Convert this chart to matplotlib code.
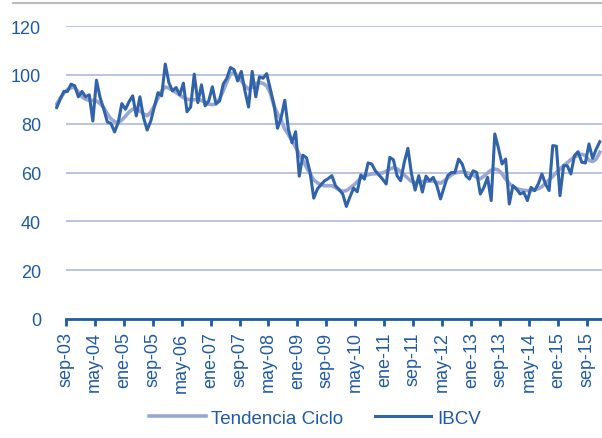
import matplotlib.pyplot as plt
from matplotlib.lines import Line2D

# tick labels every 8 months
tick_labels = ["sep-03", "may-04", "ene-05", "sep-05", "may-06", "ene-07", "sep-07",
               "may-08", "ene-09", "sep-09", "may-10", "ene-11", "sep-11", "may-12",
               "ene-13", "sep-13", "may-14", "ene-15", "sep-15"]

# monthly values, jun-03 .. dec-15
ibcv = [86.6, 90.0, 93.2, 93.2, 96.2, 95.5, 91.0, 93.2, 91.0, 91.8,
        81.1, 97.8, 90.7, 86.0, 80.7, 80.1, 76.6, 80.4, 88.2, 85.9,
        89.0, 91.4, 83.2, 91.0, 82.5, 77.4, 81.1, 87.0, 92.7, 91.4,
        104.4, 96.8, 93.4, 94.8, 91.8, 96.6, 84.9, 86.8, 100.3, 88.6,
        95.9, 87.3, 89.3, 95.1, 88.2, 89.3, 96.2, 98.6, 103.0, 102.1,
        97.5, 101.4, 93.4, 86.8, 101.4, 91.0, 99.2, 98.6, 100.5, 94.1,
        87.9, 78.1, 82.5, 89.6, 77.7, 72.2, 76.7, 58.5, 67.1, 66.0,
        60.0, 49.5, 53.2, 55.0, 56.6, 57.5, 58.7, 54.6, 53.0, 51.2,
        46.1, 50.0, 53.6, 52.1, 59.0, 57.3, 63.9, 63.5, 60.7, 59.0,
        57.3, 55.3, 66.2, 65.2, 58.7, 56.6, 64.2, 69.9, 59.4, 52.8,
        58.7, 52.0, 58.5, 56.6, 58.0, 54.6, 49.2, 54.0, 58.7, 60.0,
        60.0, 65.5, 63.5, 58.7, 57.3, 60.7, 60.0, 51.2, 53.9, 58.0,
        48.5, 75.8, 70.0, 63.5, 65.5, 47.1, 54.6, 53.2, 51.2, 51.9,
        48.5, 53.9, 52.6, 55.3, 59.4, 55.3, 52.6, 71.0, 70.8, 50.5,
        62.8, 62.8, 59.4, 66.9, 68.5, 64.2, 63.9, 71.7, 65.8, 69.6,
        72.6]

tendencia = [88.0, 90.5, 92.5, 94.0, 94.8, 94.8, 93.0, 91.0, 90.0, 89.6,
             89.5, 89.3, 88.2, 86.6, 84.0, 82.0, 80.8, 80.4, 81.5, 83.0,
             84.8, 85.9, 85.8, 85.2, 84.0, 83.2, 84.8, 87.3, 90.5, 93.4,
             95.0, 94.6, 93.7, 92.7, 91.7, 90.7, 90.0, 89.8, 89.8, 90.0,
             89.5, 88.8, 88.0, 87.8, 88.0, 90.2, 93.4, 97.0, 100.3, 101.0,
             99.5, 97.5, 95.5, 94.2, 95.0, 96.5, 96.8, 96.5, 95.5, 92.5,
             87.4, 84.0, 81.5, 77.8, 75.5, 73.0, 70.3, 67.6, 65.0, 62.1,
             59.5, 57.0, 55.8, 54.9, 54.6, 54.6, 54.6, 53.8, 52.9, 52.3,
             52.6, 53.6, 54.8, 56.2, 57.8, 58.7, 59.1, 59.4, 59.5, 59.7,
             59.8, 60.5, 61.4, 62.0, 61.5, 60.4, 59.0, 57.6, 56.3, 55.8,
             56.0, 56.3, 56.4, 56.5, 56.5, 56.0, 55.6, 56.6, 57.8, 59.0,
             59.8, 60.1, 60.3, 60.0, 59.6, 59.0, 58.0, 57.4, 58.5, 59.8,
             61.0, 61.4, 61.0, 59.5, 57.2, 55.5, 54.3, 53.4, 53.0, 52.7,
             52.6, 52.6, 52.8, 53.4, 54.2, 55.6, 57.0, 58.4, 60.0, 61.4,
             62.8, 64.0, 65.3, 66.4, 67.0, 67.5, 67.0, 65.0, 64.5, 65.5,
             68.3]

y_ticks = [0, 20, 40, 60, 80, 100, 120]

plt.rcParams["font.family"] = ["Liberation Sans", "DejaVu Sans"]
blue_text = "#1F5BA5"
grid_color = "#AEB9DE"

fig = plt.figure(figsize=(6.02, 4.39), dpi=100)
ax = fig.add_axes([55 / 602, 119 / 439, 547 / 602, 293 / 439])

months = list(range(len(ibcv)))
ax.plot(months, tendencia, color="#98A7D4", lw=2.6, label="Tendencia Ciclo", zorder=3)
ax.plot(months, ibcv, color="#3063A9", lw=2.2, label="IBCV", zorder=4)

xmax = 150.6
ax.set_xlim(-0.45, xmax)
ax.set_ylim(0, 120)

# ticks sit at the start of the month
tick_pos = [2.5 + 8 * i for i in range(len(tick_labels))]
ax.hlines(y_ticks[1:], tick_pos[0], xmax, color=grid_color, lw=1.2, zorder=1)

for side in ["top", "right", "left"]:
    ax.spines[side].set_visible(False)
ax.spines["bottom"].set_bounds(tick_pos[0], xmax)
ax.spines["bottom"].set_color(blue_text)
ax.spines["bottom"].set_linewidth(2)

ax.set_xticks(tick_pos)
ax.set_xticklabels(tick_labels, rotation=90)
ax.tick_params(axis="x", length=5, width=2, color=blue_text, pad=4,
               labelsize=13, labelcolor=blue_text)
ax.set_yticks(y_ticks)
ax.tick_params(axis="y", length=0, pad=10, labelsize=13, labelcolor=blue_text)

fig.add_artist(Line2D([13 / 602, 1], [1 - 4 / 439, 1 - 4 / 439],
                      transform=fig.transFigure, color="#BDBDBD", lw=1.5))

fig.legend(loc="center", bbox_to_anchor=(315 / 602, 1 - 419 / 439), ncol=2,
           frameon=False, handlelength=3.0, handletextpad=0.3, columnspacing=1.7,
           fontsize=13.5, labelcolor=blue_text)

fig.savefig("out.png", dpi=100)
